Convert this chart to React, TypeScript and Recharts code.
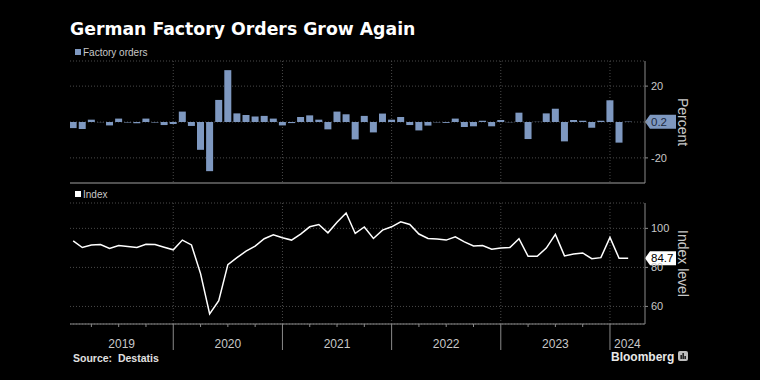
import React from "react";
import {
  Bar,
  CartesianGrid,
  ComposedChart,
  Line,
  ReferenceLine,
  XAxis,
  YAxis,
} from "recharts";

// monthly % change, Jan 2019 .. Feb 2024
const factoryOrders = [
  -3.4, -3.9, 1.3, -0.1, -1.9, 1.9, -0.3, -0.7, 1.9, -0.3, -1.7, -1.1,
  5.8, -2.2, -15.5, -27.4, 12.3, 28.9, 4.8, 3.9, 3.0, 3.4, 1.9, -1.9,
  -0.6, 2.8, 3.7, 1.3, -4.1, 5.8, 4.3, -9.7, 3.4, -5.8, 4.7, 1.3,
  2.8, -1.7, -4.7, -2.0, -0.2, -0.5, 1.9, -2.8, -2.4, 0.7, -2.4, 1.1,
  -0.1, 5.2, -9.5, 0.1, 4.8, 7.4, -10.8, 1.1, 0.7, -3.2, 0.7, 12.1,
  -11.5, 0.2,
];

// index level, same months
const indexLevel = [
  93.6, 90.2, 91.5, 91.7, 89.7, 91.2, 90.7, 90.2, 91.9, 91.7, 90.3, 89.0,
  94.0, 91.5, 76.8, 56.2, 63.0, 81.4, 85.0, 88.3, 90.9, 94.7, 96.7, 95.2,
  94.0, 97.1, 100.8, 102.0, 97.7, 103.1, 107.9, 97.4, 100.7, 94.8, 99.1, 100.8,
  103.4, 102.0, 97.1, 94.8, 94.5, 94.0, 95.7, 93.1, 91.0, 91.2, 89.3, 89.9,
  90.2, 94.7, 85.7, 85.7, 89.9, 96.9, 85.9, 86.9, 87.4, 84.5, 85.0, 95.4,
  84.7, 84.7,
];

const years = ["2019", "2020", "2021", "2022", "2023", "2024"];
const percentTicks = [-20, 0, 20];
const indexTicks = [60, 80, 100];

const rows = factoryOrders.map((v, i) => ({ i, orders: v, index: indexLevel[i] }));

const X_DOMAIN: [number, number] = [-0.35, 62.85];
const yearEnds = [11, 23, 35, 47, 59]; // December sits on the year divider
const quarterEnds = rows.filter((r) => (r.i + 1) % 3 === 0).map((r) => r.i);
const edges = [X_DOMAIN[0], ...yearEnds, X_DOMAIN[1]];
const yearMids = years.map((y, k) => ({ y, at: +((edges[k] + edges[k + 1]) / 2).toFixed(2) }));
const bottomTicks = Array.from(new Set([...quarterEnds, ...yearMids.map((m) => m.at)])).sort(
  (a, b) => a - b
);

const FONT = "'Liberation Sans', Arial, sans-serif";
const GRID = "#4a4a4a";
const AXIS = "#8a8a8a";
const TXT = "#c8c8c8";
const BAR = "#7e98c0";

// vertical year dividers, drawn by the grid so they sit under the marks
const yearGrid = ({ offset }: any) =>
  yearEnds.map(
    (v) => offset.left + ((v - X_DOMAIN[0]) / (X_DOMAIN[1] - X_DOMAIN[0])) * offset.width
  );

const MonthTick = (props: any) => {
  const { x, y, payload } = props;
  const v = payload.value;
  const len = yearEnds.includes(v) ? 26 : quarterEnds.includes(v) ? 3 : 0;
  const mid = yearMids.find((m) => Math.abs(m.at - v) < 0.01);
  return (
    <g>
      {len > 0 && <line x1={x} x2={x} y1={y} y2={y + len} stroke={AXIS} />}
      {mid && (
        <text x={x} y={y + 24} textAnchor="middle" fill={TXT} fontSize={12} fontFamily={FONT}>
          {mid.y}
        </text>
      )}
    </g>
  );
};

const Badge = (props: any) => {
  const { viewBox, text, fill, color } = props;
  const x = viewBox.x + viewBox.width;
  const y = viewBox.y;
  return (
    <g>
      <path
        d={`M${x},${y} L${x + 5},${y - 7} L${x + 31},${y - 7} L${x + 31},${y + 7} L${x + 5},${y + 7} Z`}
        fill={fill}
      />
      <text x={x + 6} y={y + 4} fill={color} fontSize={11.5} fontFamily={FONT}>
        {text}
      </text>
    </g>
  );
};

const AxisTitle = (props: any) => {
  const { viewBox, text } = props;
  const cx = viewBox.x + 38;
  const cy = viewBox.y + viewBox.height / 2;
  return (
    <text
      x={cx}
      y={cy}
      transform={`rotate(90, ${cx}, ${cy})`}
      textAnchor="middle"
      dominantBaseline="central"
      fill={TXT}
      fontSize={14}
      fontFamily={FONT}
    >
      {text}
    </text>
  );
};

const yTick = { fill: TXT, fontSize: 11, fontFamily: FONT };
const abs: React.CSSProperties = { position: "absolute", left: 0, top: 0 };

const App = () => {
  return (
    <div style={{ position: "absolute", left: 0, top: 0, width: 760, height: 380, background: "#000" }}>
      <div style={abs}>
        <ComposedChart
          width={760}
          height={380}
          data={rows}
          margin={{ top: 61, right: 75, bottom: 197, left: 70 }}
        >
          <CartesianGrid
            stroke={GRID}
            strokeDasharray="1 2"
            verticalCoordinatesGenerator={yearGrid}
          />
          <XAxis type="number" dataKey="i" domain={X_DOMAIN} allowDataOverflow hide />
          <YAxis
            orientation="right"
            width={40}
            domain={[-34, 34]}
            allowDataOverflow
            ticks={percentTicks}
            tickFormatter={(v) => (v === 0 ? "" : String(v))}
            tick={yTick}
            axisLine={{ stroke: AXIS }}
            tickLine={{ stroke: AXIS }}
            tickSize={3}
            tickMargin={3}
            label={<AxisTitle text="Percent" />}
          />
          <Bar dataKey="orders" fill={BAR} barSize={7} isAnimationActive={false} />
          <ReferenceLine y={-34} stroke="#505050" strokeWidth={2} />
          <ReferenceLine
            y={factoryOrders[factoryOrders.length - 1]}
            stroke="none"
            label={<Badge text="0.2" fill={BAR} color="#1c2a40" />}
          />
        </ComposedChart>
      </div>
      <div style={abs}>
        <ComposedChart
          width={760}
          height={380}
          data={rows}
          margin={{ top: 203, right: 75, bottom: 26, left: 70 }}
        >
          <CartesianGrid
            stroke={GRID}
            strokeDasharray="1 2"
            verticalCoordinatesGenerator={yearGrid}
          />
          <XAxis
            type="number"
            dataKey="i"
            domain={X_DOMAIN}
            allowDataOverflow
            ticks={bottomTicks}
            interval={0}
            tick={<MonthTick />}
            tickLine={false}
            tickSize={0}
            tickMargin={0}
            height={30}
            axisLine={{ stroke: AXIS }}
          />
          <YAxis
            orientation="right"
            width={40}
            domain={[51, 113]}
            allowDataOverflow
            ticks={indexTicks}
            tick={yTick}
            axisLine={{ stroke: AXIS }}
            tickLine={{ stroke: AXIS }}
            tickSize={3}
            tickMargin={3}
            label={<AxisTitle text="Index level" />}
          />
          <Line
            dataKey="index"
            type="linear"
            stroke="#ffffff"
            strokeWidth={1.5}
            dot={false}
            isAnimationActive={false}
          />
          <ReferenceLine
            y={indexLevel[indexLevel.length - 1]}
            stroke="none"
            label={<Badge text="84.7" fill="#ffffff" color="#000000" />}
          />
        </ComposedChart>
      </div>
      <svg width={760} height={380} style={{ ...abs, pointerEvents: "none" }}>
        <text x={70} y={35} fill="#fff" fontSize={17.3} fontWeight="bold" fontFamily="'DejaVu Sans', sans-serif">
          German Factory Orders Grow Again
        </text>
        <rect x={75} y={49} width={6} height={6} fill={BAR} />
        <text x={83} y={55.5} fill={TXT} fontSize={10} fontFamily={FONT}>
          Factory orders
        </text>
        <rect x={75} y={191} width={6} height={6} fill="#fff" />
        <text x={83} y={197.5} fill={TXT} fontSize={10} fontFamily={FONT}>
          Index
        </text>
        <text x={73} y={362} fill="#e0e0e0" fontSize={10.5} fontWeight="bold" fontFamily={FONT} xmlSpace="preserve">
          Source:  Destatis
        </text>
        <text x={611} y={361} fill="#e8e8e8" fontSize={12} fontWeight="bold" fontFamily={FONT}>
          Bloomberg
        </text>
        <rect x={678} y={351} width={10} height={10} rx={2} fill="#bdbdbd" />
        <rect x={680.5} y={355} width={1.3} height={4} fill="#000" />
        <rect x={682.5} y={353} width={1.3} height={6} fill="#000" />
        <rect x={684.5} y={356} width={1.3} height={3} fill="#000" />
      </svg>
    </div>
  );
};

export default App;
